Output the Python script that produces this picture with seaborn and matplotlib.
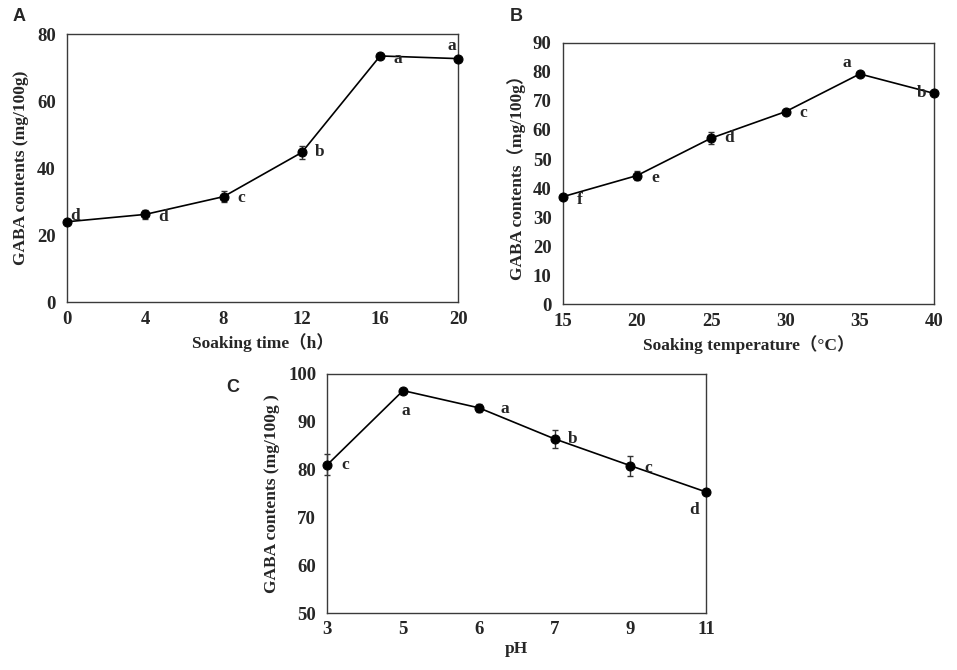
import numpy as np
import matplotlib
matplotlib.use("Agg")
import matplotlib.pyplot as plt
import seaborn as sns

# panel A: soaking time
time_h = [0, 4, 8, 12, 16, 20]
gaba_time = [24.0, 26.2, 31.5, 44.7, 73.5, 72.7]
err_time = [0.6, 1.3, 1.7, 2.0, 0.6, 0.6]
let_time = ["d", "d", "c", "b", "a", "a"]

# panel B: soaking temperature
temp_c = [15, 20, 25, 30, 35, 40]
gaba_temp = [37.0, 44.3, 57.2, 66.3, 79.3, 72.6]
err_temp = [0.6, 1.7, 2.2, 0.6, 0.6, 0.6]
let_temp = ["f", "e", "d", "c", "a", "b"]

# panel C: pH (categorical spacing)
ph_labels = ["3", "5", "6", "7", "9", "11"]
gaba_ph = [81.0, 96.5, 92.9, 86.4, 80.8, 75.3]
err_ph = [2.2, 0.4, 0.8, 1.9, 2.1, 0.4]
let_ph = ["c", "a", "a", "b", "c", "d"]

sns.set_style("white")
plt.rcParams['font.family'] = ['Liberation Serif', 'Noto Sans CJK SC']
plt.rcParams['font.weight'] = 'bold'
plt.rcParams['axes.edgecolor'] = '#3a3a3a'
plt.rcParams['axes.linewidth'] = 1.0

fig = plt.figure(figsize=(9.57, 6.70), dpi=100)
axA = fig.add_axes([0.070, 0.549, 0.409, 0.400])
axB = fig.add_axes([0.588, 0.546, 0.388, 0.390])
axC = fig.add_axes([0.342, 0.085, 0.396, 0.357])

FS = 12.5
TFS = 13.5


def draw(ax, x, y, err, letters, offsets):
    eb = ax.errorbar(x, y, yerr=err, fmt='none', ecolor='#333333', elinewidth=1, capsize=2.5,
                     capthick=1, zorder=2)
    for art in eb.get_children():
        art.set_clip_on(False)
    sns.lineplot(x=x, y=y, ax=ax, color='black', linewidth=1.2, marker='o', markersize=6.5,
                 markeredgecolor='black', zorder=3)
    ax.lines[-1].set_clip_on(False)
    for xi, yi, t, off in zip(x, y, letters, offsets):
        ax.annotate(t, (xi, yi), xytext=off, textcoords='offset points', fontsize=FS,
                    fontweight='bold', ha='center', va='center')
    ax.tick_params(axis='x', direction='in', length=4, width=1, color='#3a3a3a', labelsize=TFS, pad=6)
    ax.tick_params(axis='y', direction='out', length=4, width=1, color='#3a3a3a', labelsize=TFS, pad=4)
    ax.set_facecolor('white')


# A
draw(axA, time_h, gaba_time, err_time, let_time,
     [(6, 4), (13, -2), (13, -1), (13, 0), (13, -2), (-5, 9)])
axA.set_xlim(0, 20)
axA.set_ylim(0, 80)
axA.set_xticks([0, 4, 8, 12, 16, 20])
axA.set_yticks([0, 20, 40, 60, 80])
axA.set_xlabel("Soaking time（h）", fontsize=FS, fontweight='bold', labelpad=4)
axA.set_ylabel("GABA contents (mg/100g)", fontsize=FS, fontweight='bold', labelpad=6)

# B
draw(axB, temp_c, gaba_temp, err_temp, let_temp,
     [(12, -2), (13, -2), (13, 0), (13, -1), (-9, 8), (-9, 0)])
axB.set_xlim(15, 40)
axB.set_ylim(0, 90)
axB.set_xticks(temp_c)
axB.set_yticks(np.arange(0, 91, 10))
axB.set_xlabel("Soaking temperature（°C）", fontsize=FS, fontweight='bold', labelpad=4)
axB.set_ylabel("GABA contents（mg/100g）", fontsize=FS, fontweight='bold', labelpad=5)

# C
pos = np.arange(len(ph_labels))
draw(axC, pos, gaba_ph, err_ph, let_ph,
     [(13, 0), (2, -15), (19, -1), (13, 0), (13, -2), (-9, -13)])
axC.set_xlim(0, len(ph_labels) - 1)
axC.set_ylim(50, 100)
axC.set_xticks(pos)
axC.set_xticklabels(ph_labels)
axC.set_yticks([50, 60, 70, 80, 90, 100])
axC.set_xlabel("pH", fontsize=FS, fontweight='bold', labelpad=2)
axC.set_ylabel("GABA contents (mg/100g )", fontsize=FS, fontweight='bold', labelpad=6)

for ax in (axA, axB, axC):
    for s in ax.spines.values():
        s.set_visible(True)
    for lab in ax.get_xticklabels() + ax.get_yticklabels():
        lab.set_fontweight('bold')

fig.text(0.013, 0.975, "A", fontsize=13, fontweight='bold', family='Liberation Sans', va='center')
fig.text(0.533, 0.975, "B", fontsize=13, fontweight='bold', family='Liberation Sans', va='center')
fig.text(0.236, 0.422, "C", fontsize=13, fontweight='bold', family='Liberation Sans', va='center')

fig.savefig("out.png", dpi=100, facecolor='white')
